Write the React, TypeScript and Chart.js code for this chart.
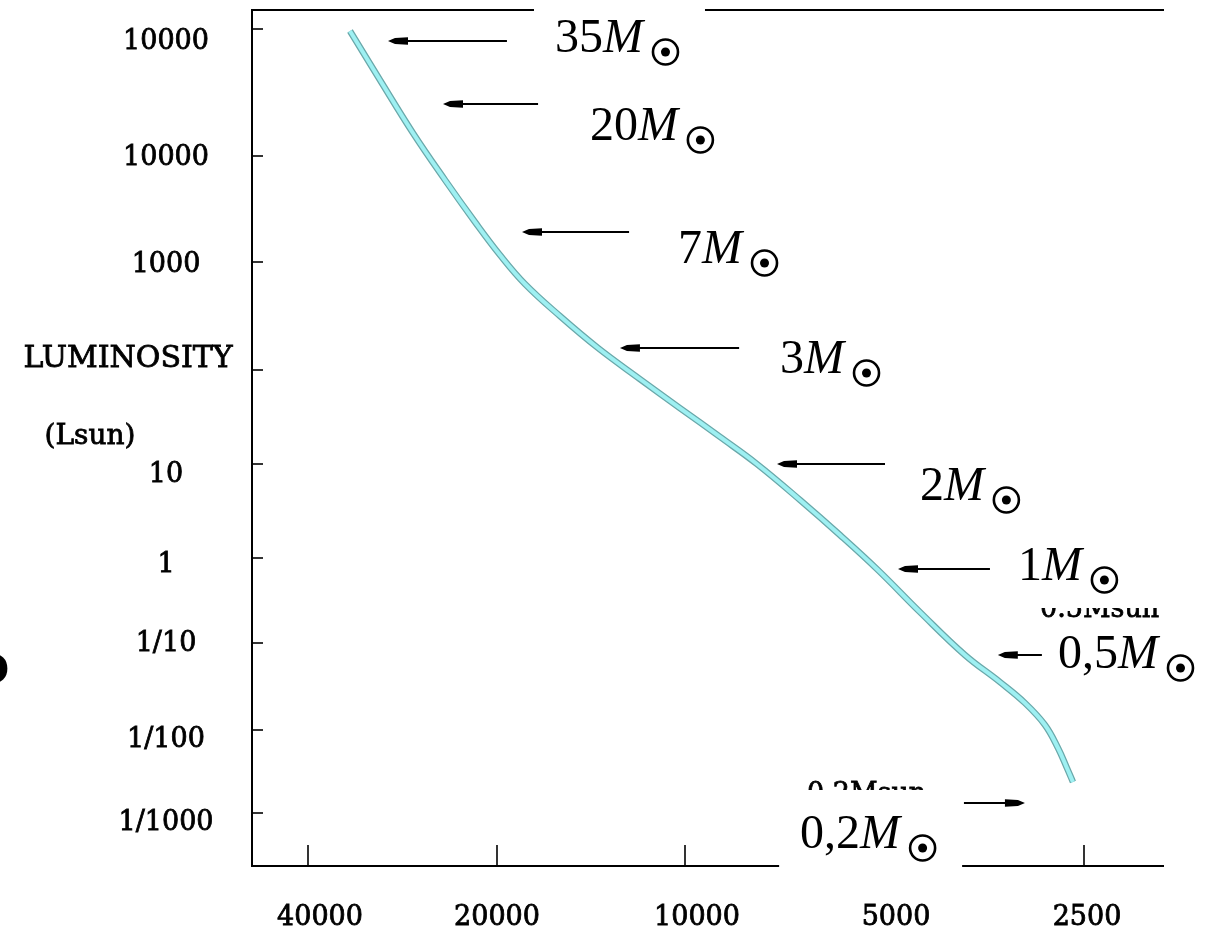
import React, { useEffect, useRef } from 'react';
import { Chart, registerables, LinearScale } from 'chart.js';

// ---------------- data ----------------
// main-sequence curve: effective temperature (K) and luminosity (Lsun)
const curveTemp = [34290, 30720, 27220, 24200, 21680, 19780, 18040, 15860, 13780, 11810, 10190, 8857, 7795, 6712, 5845, 5124, 4428, 3785, 3351, 3071, 2864, 2737, 2653, 2598];
const curveLum = [96450, 39670, 15180, 5937, 2385, 1164, 625.8, 316.2, 159.8, 80.2, 39.4, 19.4, 10, 4.14, 1.757, 0.7226, 0.2316, 0.0728, 0.0356, 0.02043, 0.01142, 0.00607, 0.003485, 0.002363];

// mass annotations
const massLabels = ['35', '20', '7', '3', '2', '1', '0,5', '0,2'];
const arrowTipTemp = [29830, 24380, 18240, 12710, 7270, 4779, 3375, 3071];
const arrowTailTemp = [19280, 17190, 12290, 8290, 5000, 3469, 2895, 3798];
const arrowLum = [80430, 25670, 1919, 159.8, 10, 0.742, 0.0728, 0.00132];
const labelTemp = [16150, 14200, 10260, 7194, 4428, 3147, 2737, 6710];
const labelLum = [65900, 13370, 979, 92.9, 4.14, 0.551, 0.0516, 0.000379];
const labelBoxed = [true, false, false, false, false, false, false, true];

// axes
const xTickValues = [40000, 20000, 10000, 5000, 2500];
const xTickLabels = ['40000', '20000', '10000', '5000', '2500'];
const yTickValues = [1e5, 1e4, 1e3, 100, 10, 1, 0.1, 0.01, 0.001];
const yTickLabels = ['10000', '10000', '1000', '', '10', '1', '1/10', '1/100', '1/1000'];
const yTitle = 'LUMINOSITY';
const yUnit = '(Lsun)';

// hand-drawn (non-uniform) logarithmic axes: value -> fraction along the axis
const xWarpValues = [49130, 40000, 20000, 10000, 5000, 2500, 1892];
const xWarpFractions = [0, 0.0614, 0.26864, 0.47478, 0.69408, 0.91228, 1];
const yWarpValues = [141254, 1e5, 1e4, 1e3, 100, 10, 1, 0.1, 0.01, 0.001, 0.00023];
const yWarpFractions = [0, 0.0222, 0.17056, 0.29439, 0.42056, 0.53037, 0.64019, 0.73949, 0.84112, 0.93808, 1];

// label nudges (style)
const xLabelNudge = [12, 0, 12, 11, 3];
const yLabelNudge = [13, 2, 3, 0, 11, 7, 1, 10, 10];

const WARPS: any = {
  x: { values: xWarpValues, fractions: xWarpFractions, ticks: xTickValues },
  y: { values: yWarpValues, fractions: yWarpFractions, ticks: yTickValues },
};

class WarpScale extends LinearScale {
  static id = 'warp';
  determineDataLimits() {
    const w = WARPS[(this as any).id];
    (this as any).min = Math.min(...w.values);
    (this as any).max = Math.max(...w.values);
  }
  buildTicks() {
    return WARPS[(this as any).id].ticks.map((v: number) => ({ value: v }));
  }
  getPixelForValue(value: any) {
    const self: any = this;
    if (!(value > 0)) return NaN;
    const w = WARPS[self.id];
    const logs = w.values.map((v: number) => Math.log10(v));
    const pos = w.fractions;
    const lv = Math.log10(value);
    let i = 0;
    while (i < logs.length - 2 && lv < logs[i + 1]) i++;
    const t = (lv - logs[i]) / (logs[i + 1] - logs[i]);
    const f = pos[i] + t * (pos[i + 1] - pos[i]);
    return self.isHorizontal() ? self.left + f * self.width : self.top + f * self.height;
  }
  getValueForPixel(pixel: number) {
    const self: any = this;
    const w = WARPS[self.id];
    const logs = w.values.map((v: number) => Math.log10(v));
    const pos = w.fractions;
    const f = self.isHorizontal() ? (pixel - self.left) / self.width : (pixel - self.top) / self.height;
    let i = 0;
    while (i < pos.length - 2 && f > pos[i + 1]) i++;
    const t = (f - pos[i]) / (pos[i + 1] - pos[i]);
    return Math.pow(10, logs[i] + t * (logs[i + 1] - logs[i]));
  }
}

Chart.register(...registerables, WarpScale);

const SERIF = '"Liberation Serif", "Times New Roman", serif';
const AXISFONT = '"DejaVu Serif", serif';

function heavyText(ctx: CanvasRenderingContext2D, text: string, x: number, y: number) {
  ctx.fillText(text, x, y);
  ctx.lineWidth = 0.8;
  ctx.strokeText(text, x, y);
}

function drawMassLabel(ctx: CanvasRenderingContext2D, text: string, x: number, y: number, boxed: boolean) {
  ctx.font = `48px ${SERIF}`;
  const w1 = ctx.measureText(text).width;
  ctx.font = `italic 48px ${SERIF}`;
  const w2 = ctx.measureText('M').width;
  const r = 12.5;
  const total = w1 + w2 + 10 + 2 * r;
  if (boxed) {
    ctx.fillStyle = '#fff';
    ctx.fillRect(x - 21, y - 58, total + 48, 95);
  }
  ctx.fillStyle = '#000';
  ctx.strokeStyle = '#000';
  ctx.textAlign = 'left';
  ctx.textBaseline = 'alphabetic';
  ctx.font = `48px ${SERIF}`;
  ctx.fillText(text, x, y);
  ctx.font = `italic 48px ${SERIF}`;
  ctx.fillText('M', x + w1, y);
  const cx = x + w1 + w2 + 10 + r;
  const cy = y;
  ctx.lineWidth = 2.6;
  ctx.beginPath();
  ctx.arc(cx, cy, r, 0, Math.PI * 2);
  ctx.stroke();
  ctx.beginPath();
  ctx.arc(cx, cy, 4.5, 0, Math.PI * 2);
  ctx.fill();
}

function drawArrow(ctx: CanvasRenderingContext2D, tipX: number, tailX: number, y: number) {
  const dir = tailX > tipX ? 1 : -1;
  ctx.strokeStyle = '#000';
  ctx.fillStyle = '#000';
  ctx.lineWidth = 1.8;
  ctx.beginPath();
  ctx.moveTo(tailX, y);
  ctx.lineTo(tipX + 10 * dir, y);
  ctx.stroke();
  ctx.beginPath();
  ctx.moveTo(tipX, y);
  ctx.lineTo(tipX + 7 * dir, y - 3);
  ctx.lineTo(tipX + 20 * dir, y - 3.8);
  ctx.lineTo(tipX + 20 * dir, y + 3.8);
  ctx.lineTo(tipX + 7 * dir, y + 3);
  ctx.closePath();
  ctx.fill();
}

const hrPlugin = {
  id: 'hrDecor',
  beforeDatasetsDraw(chart: any) {
    const ctx: CanvasRenderingContext2D = chart.ctx;
    const { left, right, top, bottom } = chart.chartArea;
    const xs = chart.scales.x;
    const ys = chart.scales.y;
    ctx.save();
    ctx.strokeStyle = '#000';
    ctx.lineWidth = 2;
    ctx.beginPath();
    ctx.moveTo(right, top);
    ctx.lineTo(left, top);
    ctx.lineTo(left, bottom);
    ctx.lineTo(right, bottom);
    ctx.stroke();
    ctx.lineWidth = 1.6;
    yTickValues.forEach((v) => {
      const py = Math.round(ys.getPixelForValue(v));
      ctx.beginPath();
      ctx.moveTo(left, py);
      ctx.lineTo(left + 11, py);
      ctx.stroke();
    });
    xTickValues.forEach((v) => {
      const px = Math.round(xs.getPixelForValue(v));
      ctx.beginPath();
      ctx.moveTo(px, bottom);
      ctx.lineTo(px, bottom - 21);
      ctx.stroke();
    });
    ctx.fillStyle = '#000';
    ctx.strokeStyle = '#000';
    ctx.textAlign = 'center';
    ctx.textBaseline = 'middle';
    ctx.font = `27px ${AXISFONT}`;
    yTickValues.forEach((v, i) => {
      const py = ys.getPixelForValue(v) + yLabelNudge[i];
      heavyText(ctx, yTickLabels[i], 166, py);
    });
    xTickValues.forEach((v, i) => {
      const px = xs.getPixelForValue(v) + xLabelNudge[i];
      heavyText(ctx, xTickLabels[i], px, bottom + 52);
    });
    ctx.font = `30px ${AXISFONT}`;
    heavyText(ctx, yTitle, 128, 359);
    ctx.font = `28px ${AXISFONT}`;
    heavyText(ctx, yUnit, 90, 437);
    ctx.restore();
  },
  afterDatasetsDraw(chart: any) {
    const ctx: CanvasRenderingContext2D = chart.ctx;
    const xs = chart.scales.x;
    const ys = chart.scales.y;
    ctx.save();
    // remnants of older labels partly hidden by the new ones
    ctx.fillStyle = '#000';
    ctx.strokeStyle = '#000';
    ctx.font = `27px ${AXISFONT}`;
    ctx.textAlign = 'left';
    ctx.textBaseline = 'alphabetic';
    ctx.save();
    ctx.beginPath();
    ctx.rect(800, 770, 140, 20);
    ctx.clip();
    heavyText(ctx, '0.2Msun', 807, 802);
    ctx.restore();
    ctx.save();
    ctx.beginPath();
    ctx.rect(1030, 608, 150, 10);
    ctx.clip();
    heavyText(ctx, '0.5Msun', 1040, 617);
    ctx.restore();
    ctx.font = `bold 40px ${AXISFONT}`;
    ctx.textAlign = 'right';
    ctx.fillText('O', 9, 683);

    massLabels.forEach((m, i) => {
      const tipX = xs.getPixelForValue(arrowTipTemp[i]);
      const tailX = xs.getPixelForValue(arrowTailTemp[i]);
      const ay = ys.getPixelForValue(arrowLum[i]);
      drawArrow(ctx, tipX, tailX, ay);
    });
    massLabels.forEach((m, i) => {
      const lx = xs.getPixelForValue(labelTemp[i]);
      const ly = ys.getPixelForValue(labelLum[i]);
      drawMassLabel(ctx, m, lx, ly, labelBoxed[i]);
    });
    ctx.restore();
  },
};

export default function App() {
  const ref = useRef<HTMLCanvasElement>(null);
  useEffect(() => {
    document.body.style.margin = '0';
    const curveData = curveTemp.map((t, i) => ({ x: t, y: curveLum[i] }));
    const chart = new Chart(ref.current as HTMLCanvasElement, {
      type: 'line',
      data: {
        datasets: [
          { data: curveData, borderColor: '#9ef0f2', borderWidth: 4, pointRadius: 0, tension: 0.4, fill: false },
          { data: curveData, borderColor: '#6aa8aa', borderWidth: 6.5, pointRadius: 0, tension: 0.4, fill: false },
        ],
      },
      options: {
        animation: false,
        responsive: false,
        events: [],
        layout: { padding: { left: 252, right: 52, top: 10, bottom: 68 } },
        plugins: { legend: { display: false }, tooltip: { enabled: false } },
        scales: {
          x: { type: 'warp', display: false, ticks: { display: false }, grid: { display: false } },
          y: { type: 'warp', display: false, ticks: { display: false }, grid: { display: false } },
        },
      } as any,
      plugins: [hrPlugin],
    } as any);
    return () => chart.destroy();
  }, []);
  return <canvas ref={ref} width={1216} height={934} style={{ display: 'block' }} />;
}
